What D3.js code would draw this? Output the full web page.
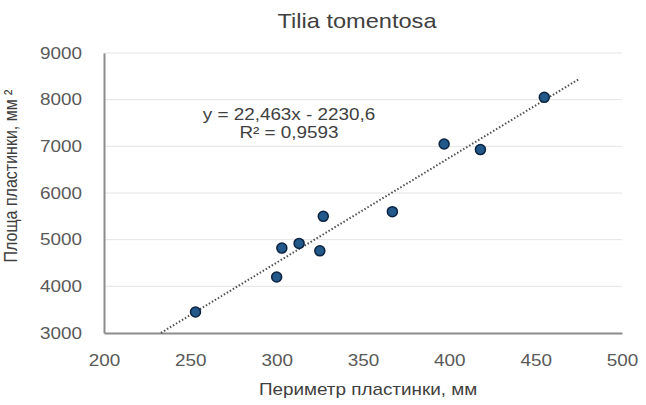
<!DOCTYPE html>
<html>
<head>
<meta charset="utf-8">
<script src="https://cdn.jsdelivr.net/npm/d3@7"></script>
<style>
  body { margin: 0; background: #fff; }
  text { font-family: "Liberation Sans", Arial, sans-serif; }
</style>
</head>
<body>
<div id="chart"></div>
<script>
// perimeter of leaf blade (mm) and area (mm²)
const perimeter = [253, 300, 303, 313, 325, 327, 367, 397, 418, 455];
const area = [3450, 4200, 4820, 4920, 4760, 5500, 5600, 7050, 6930, 8050];
const xTicks = [200, 250, 300, 350, 400, 450, 500];
const yTicks = [3000, 4000, 5000, 6000, 7000, 8000, 9000];
const slope = 22.463, intercept = -2230.6;
const trendRange = [233, 475];

const W = 646, H = 405;
const SX = 1.18; // the original picture is a bit stretched sideways
const svg = d3.select("#chart").append("svg")
  .attr("width", W).attr("height", H);

const x = d3.scaleLinear().domain([200, 500]).range([104, 622]);
const y = d3.scaleLinear().domain([3000, 9000]).range([333, 53]);

// grid
svg.append("g").selectAll("line")
  .data(yTicks.slice(1))
  .enter().append("line")
  .attr("x1", x(200)).attr("x2", x(500))
  .attr("y1", d => y(d)).attr("y2", d => y(d))
  .attr("stroke", "#e4e4e4").attr("stroke-width", 1);

// axes
const yAxis = svg.append("g")
  .attr("transform", `translate(${x(200)},0)`)
  .call(d3.axisLeft(y).tickValues(yTicks).tickSize(0).tickPadding(0).tickFormat(d3.format("d")));
const xAxis = svg.append("g")
  .attr("transform", `translate(0,${y(3000)})`)
  .call(d3.axisBottom(x).tickValues(xTicks).tickSize(0).tickPadding(22).tickFormat(d3.format("d")));

[xAxis, yAxis].forEach(a => {
  a.select(".domain").attr("stroke", "#8c8c8c").attr("stroke-width", 2);
  a.selectAll("text").attr("fill", "#595959").style("font-size", "16px");
});
xAxis.selectAll("text").attr("transform", `scale(${SX},1)`);
yAxis.selectAll("text").attr("x", 0).attr("transform", `translate(-22,0) scale(${SX},1)`);

// trendline
svg.append("line")
  .attr("x1", x(trendRange[0])).attr("y1", y(slope * trendRange[0] + intercept))
  .attr("x2", x(trendRange[1])).attr("y2", y(slope * trendRange[1] + intercept))
  .attr("stroke", "#505050").attr("stroke-width", 2)
  .attr("stroke-dasharray", "1.5,2");

// points
svg.append("g").selectAll("circle")
  .data(perimeter.map((p, i) => [p, area[i]]))
  .enter().append("circle")
  .attr("cx", d => x(d[0])).attr("cy", d => y(d[1]))
  .attr("r", 5)
  .attr("fill", "#22598a").attr("stroke", "#0c2340").attr("stroke-width", 1.5);

function label(px, py, str, size, color) {
  return svg.append("text")
    .attr("transform", `translate(${px},${py}) scale(${SX},1)`)
    .attr("text-anchor", "middle")
    .attr("fill", color).style("font-size", size + "px")
    .text(str);
}

// equation
label(289, 120, "y = 22,463x - 2230,6", 16, "#404040");
label(289, 138, "R² = 0,9593", 16, "#404040");

// title
label(357, 28, "Tilia tomentosa", 20, "#404040");

// axis titles
label(368, 395, "Периметр пластинки, мм", 16, "#404040");
svg.append("text")
  .attr("transform", `translate(17,176) rotate(-90) scale(1,${SX})`)
  .attr("text-anchor", "middle")
  .attr("fill", "#404040").style("font-size", "16px")
  .text("Площа пластинки, мм ²");
</script>
</body>
</html>
